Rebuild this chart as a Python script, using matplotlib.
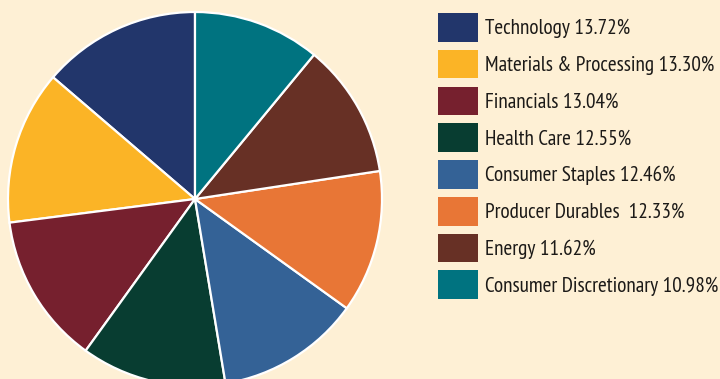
import matplotlib.pyplot as plt
from matplotlib.patches import Patch

sectors = ["Technology", "Materials & Processing", "Financials", "Health Care",
           "Consumer Staples", "Producer Durables", "Energy", "Consumer Discretionary"]
weights = [13.72, 13.30, 13.04, 12.55, 12.46, 12.33, 11.62, 10.98]
colors = ["#22366b", "#fbb426", "#76202e", "#083d31",
          "#346296", "#e87636", "#673025", "#007380"]
labels = ["Technology 13.72%", "Materials & Processing 13.30%", "Financials 13.04%",
          "Health Care 12.55%", "Consumer Staples 12.46%", "Producer Durables  12.33%",
          "Energy 11.62%", "Consumer Discretionary 10.98%"]

bg = "#fef0d5"
plt.rcParams['font.family'] = ['PT Sans Narrow', 'DejaVu Sans']

fig = plt.figure(figsize=(7.2, 3.79), dpi=100, facecolor=bg)
ax = fig.add_axes([0, 0, 1, 1])
ax.set_facecolor(bg)

ax.pie(weights, colors=colors, startangle=90, counterclock=True,
       center=(195, 180), radius=187, frame=True,
       wedgeprops=dict(edgecolor="white", linewidth=1.6))
ax.set_xlim(0, 720)
ax.set_ylim(0, 379)
ax.set_aspect("equal")
ax.axis("off")

# legend: colour swatch + "sector weight%" per row
handles = [Patch(facecolor=c, edgecolor="none") for c in colors]
leg = ax.legend(handles, labels, loc="upper left", bbox_to_anchor=(438 / 720, 1 - 13 / 379),
                frameon=False, borderpad=0, borderaxespad=0, fontsize=15.3,
                handlelength=1.88, handleheight=1.7, handletextpad=0.33,
                labelspacing=0.38)
for t in leg.get_texts():
    t.set_color("#1c1a18")

fig.savefig("out.png", dpi=100, facecolor=bg)
